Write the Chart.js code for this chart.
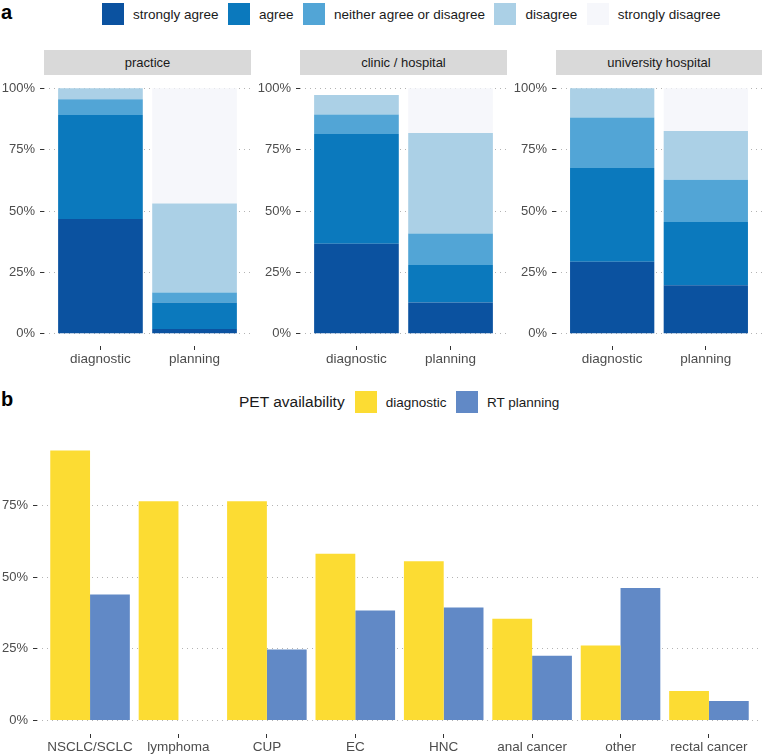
<!DOCTYPE html>
<html>
<head>
<meta charset="utf-8">
<script src="https://cdn.jsdelivr.net/npm/chart.js@4.4.0/dist/chart.umd.min.js"></script>
<style>
  body { margin: 0; background: #fff; font-family: 'Liberation Sans', Arial, Helvetica, sans-serif; }
  #page { position: relative; width: 762px; height: 754px; overflow: hidden; }
  canvas { position: absolute; }
  .tag { position: absolute; font-weight: bold; font-size: 20px; color: #000; }
  .strip { position: absolute; top: 50px; height: 25px; background: #d9d9d9; color: #1a1a1a;
           font-size: 13px; line-height: 25px; text-align: center; }
  .legend { position: absolute; display: flex; align-items: center; font-size: 13.5px; color: #1a1a1a; white-space: nowrap; }
  .legend .key { width: 22px; height: 22px; margin-right: 9px; }
  .legend .lab { margin-right: 9.5px; }
</style>
</head>
<body>
<div id="page">
  <div class="tag" style="left:1px; top:1px;">a</div>
  <div class="legend" id="legendA" style="left:102px; top:3px; height:22px;"></div>

  <div class="strip" style="left:44px; width:207px;">practice</div>
  <div class="strip" style="left:300px; width:207px;">clinic / hospital</div>
  <div class="strip" style="left:556px; width:206px;">university hospital</div>

  <canvas id="practice" width="251" height="300" style="left:0; top:76px;"></canvas>
  <canvas id="clinic" width="256" height="300" style="left:251px; top:76px;"></canvas>
  <canvas id="univ" width="255" height="300" style="left:507px; top:76px;"></canvas>

  <div class="tag" style="left:1px; top:388px;">b</div>
  <div class="legend" id="legendB" style="left:239px; top:391px; height:22px;"></div>

  <canvas id="pet" width="762" height="317" style="left:0; top:437px;"></canvas>
</div>

<script>
// panel a: agreement by facility type (percent)
const responses = ['strongly agree', 'agree', 'neither agree or disagree', 'disagree', 'strongly disagree'];
const responseColors = ['#0b52a0', '#0b79bd', '#52a5d6', '#abd0e6', '#f6f7fb'];
const phases = ['diagnostic', 'planning'];

const practiceDiagnostic = [46.7, 42.4, 6.4, 4.5, 0];
const practicePlanning = [1.9, 10.8, 4.1, 36.3, 46.9];
const clinicDiagnostic = [36.7, 44.7, 7.9, 8.0, 0];
const clinicPlanning = [12.7, 15.3, 12.8, 41.0, 18.2];
const univDiagnostic = [29.3, 38.2, 20.6, 11.9, 0];
const univPlanning = [19.7, 25.8, 17.2, 19.9, 17.4];
const agreeTicks = [0, 25, 50, 75, 100];

// panel b: PET availability by tumour entity (percent)
const cancerTypes = ['NSCLC/SCLC', 'lymphoma', 'CUP', 'EC', 'HNC', 'anal cancer', 'other', 'rectal cancer'];
const petDiagnostic = [94.2, 76.5, 76.5, 58.2, 55.6, 35.5, 26.2, 10.3];
const petPlanning = [44.0, 0, 24.8, 38.4, 39.4, 22.6, 46.2, 6.8];
const petTicks = [0, 25, 50, 75];
const petLabels = ['diagnostic', 'RT planning'];
const petColors = ['#fcdc33', '#6189c6'];

const fontFamily = "'Liberation Sans', Arial, Helvetica, sans-serif";
const axisText = '#4d4d4d';
const tickMark = '#333333';
const gridDots = '#b3b3b3';

// legends as html
function addKey(box, color, text) {
  const k = document.createElement('div');
  k.className = 'key';
  k.style.background = color;
  const l = document.createElement('div');
  l.className = 'lab';
  l.textContent = text;
  box.appendChild(k);
  box.appendChild(l);
}
const legendA = document.getElementById('legendA');
responses.forEach((r, i) => addKey(legendA, responseColors[i], r));

const legendB = document.getElementById('legendB');
const title = document.createElement('div');
title.textContent = 'PET availability';
title.style.fontSize = '15.5px';
title.style.marginRight = '10px';
legendB.appendChild(title);
petLabels.forEach((r, i) => addKey(legendB, petColors[i], r));

function xAxis(labels, height) {
  return {
    type: 'linear',
    min: 0.4,
    max: labels.length + 0.6,
    offset: false,
    afterBuildTicks: s => { s.ticks = labels.map((_, i) => ({ value: i + 1 })); },
    ticks: {
      callback: v => labels[v - 1],
      color: axisText,
      font: { family: fontFamily, size: 13.5 },
      padding: 1,
      autoSkip: false,
      maxRotation: 0
    },
    grid: { offset: false, drawOnChartArea: false, drawTicks: true, tickLength: 4, tickColor: tickMark, tickWidth: 1 },
    border: { display: false },
    afterFit: s => { s.height = height; s.paddingLeft = 0; s.paddingRight = 0; }
  };
}

function yAxis(min, max, ticks, width) {
  return {
    min: min,
    max: max,
    afterBuildTicks: s => { s.ticks = ticks.map(v => ({ value: v })); },
    ticks: {
      callback: v => v + '%',
      color: axisText,
      font: { family: fontFamily, size: 13 },
      padding: 5
    },
    grid: { color: gridDots, lineWidth: 1, drawTicks: true, tickLength: 4, tickColor: tickMark, tickWidth: 1 },
    border: { display: false, dash: [1, 4] },
    afterFit: s => { s.width = width; s.paddingTop = 0; s.paddingBottom = 0; }
  };
}

function makeFacet(id, diagnostic, planning, yWidth) {
  const datasets = responses.map((r, i) => ({
    label: r,
    data: [{ x: 1, y: diagnostic[i] }, { x: 2, y: planning[i] }],
    backgroundColor: responseColors[i],
    borderWidth: 0,
    categoryPercentage: 1,
    barPercentage: 0.9
  }));

  const xs = xAxis(phases, 30);
  xs.stacked = true;
  const ys = yAxis(-5, 105, agreeTicks, yWidth);
  ys.stacked = true;

  new Chart(document.getElementById(id), {
    type: 'bar',
    data: { datasets: datasets },
    options: {
      responsive: false,
      animation: false,
      layout: { padding: 0 },
      plugins: { legend: { display: false }, tooltip: { enabled: false } },
      scales: { x: xs, y: ys }
    }
  });
}

makeFacet('practice', practiceDiagnostic, practicePlanning, 44);
makeFacet('clinic', clinicDiagnostic, clinicPlanning, 49);
makeFacet('univ', univDiagnostic, univPlanning, 49);

// panel b
const petMax = Math.max(...petDiagnostic, ...petPlanning);
new Chart(document.getElementById('pet'), {
  type: 'bar',
  data: {
    datasets: [petDiagnostic, petPlanning].map((vals, j) => ({
      label: petLabels[j],
      data: vals.map((v, i) => ({ x: i + 1, y: v })),
      backgroundColor: petColors[j],
      borderWidth: 0,
      categoryPercentage: 0.9,
      barPercentage: 1
    }))
  },
  options: {
    responsive: false,
    animation: false,
    layout: { padding: 0 },
    plugins: { legend: { display: false }, tooltip: { enabled: false } },
    scales: {
      x: xAxis(cancerTypes, 20),
      y: yAxis(-petMax * 0.05, petMax * 1.05, petTicks, 37)
    }
  }
});
</script>
</body>
</html>
